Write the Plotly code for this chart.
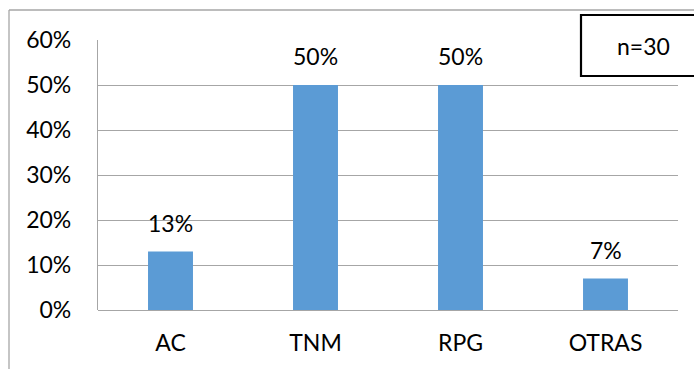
import plotly.graph_objects as go

categories = ["AC", "TNM", "RPG", "OTRAS"]
values = [0.13, 0.50, 0.50, 0.07]
value_labels = ["13%", "50%", "50%", "7%"]
y_ticks = [0, 0.1, 0.2, 0.3, 0.4, 0.5, 0.6]

W, H = 694, 369
L, R, T, B = 98, 16, 40, 59
pw, ph = W - L - R, H - T - B


def px(x):
    return (x - L) / pw


def py(y):
    return (H - B - y) / ph


FONT = "Lato, Calibri, sans-serif"
FS = 23
GRID = "#a6a6a6"

fig = go.Figure(
    go.Bar(
        x=categories,
        y=values,
        marker=dict(color="#5b9bd5", line=dict(width=0)),
        hoverinfo="skip",
    )
)

for c, v, t in zip(categories, values, value_labels):
    fig.add_annotation(
        x=c, y=v, text=t, showarrow=False, yanchor="bottom", yshift=13,
        font=dict(family=FONT, size=FS, color="#000000"),
    )

# outer chart frame (top and left edges)
fig.add_shape(type="line", xref="paper", yref="paper",
              x0=px(9), x1=px(W + 5), y0=py(10), y1=py(10),
              line=dict(color=GRID, width=1.3))
fig.add_shape(type="line", xref="paper", yref="paper",
              x0=px(9), x1=px(9), y0=py(10), y1=py(H + 5),
              line=dict(color=GRID, width=1.3))

# sample-size box
fig.add_shape(type="rect", xref="paper", yref="paper",
              x0=px(581), x1=px(W + 10), y0=py(76), y1=py(15),
              fillcolor="#ffffff", line=dict(color="#000000", width=2.2))
fig.add_annotation(xref="paper", yref="paper", x=px(643), y=py(46),
                   xanchor="center", yanchor="middle",
                   text="n=30", showarrow=False,
                   font=dict(family=FONT, size=FS, color="#000000"))

fig.update_layout(
    width=W, height=H,
    margin=dict(l=L, r=R, t=T, b=B, pad=0),
    paper_bgcolor="#ffffff", plot_bgcolor="#ffffff",
    bargap=0.69,
    showlegend=False,
    font=dict(family=FONT, size=FS, color="#000000"),
)
fig.update_xaxes(
    showgrid=False, showline=False, zeroline=False,
    ticks="", ticklabelstandoff=17,
    tickfont=dict(family=FONT, size=FS, color="#000000"),
)
fig.update_yaxes(
    range=[0, 0.6], tickvals=y_ticks, tickformat=".0%",
    showgrid=True, gridcolor=GRID, gridwidth=1.3,
    showline=True, linecolor=GRID, linewidth=1.3,
    zeroline=True, zerolinecolor=GRID, zerolinewidth=1.3,
    ticks="", ticklabelstandoff=21,
    tickfont=dict(family=FONT, size=FS, color="#000000"),
)

fig.write_html("out.html")
